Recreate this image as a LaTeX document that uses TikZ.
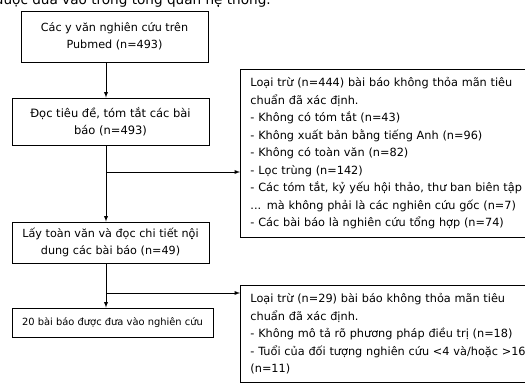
\documentclass[tikz,border=0pt]{standalone}
\usepackage{fontspec}
\setmainfont{DejaVu Sans}
\usetikzlibrary{arrows}
\usetikzlibrary{positioning}
\tikzset{box/.style = {draw, rectangle, line width = 0.9, inner sep = 0, align = center, font = \fontsize{11.2}{17.5}\selectfont}}
\tikzset{exbox/.style = {draw, rectangle, line width = 0.9, anchor = north west, inner xsep = 10, inner ysep = 8, text width = 330, align = left, font = \fontsize{11.3}{17.5}\selectfont}}
\tikzset{arr/.style = {-latex, line width = 0.9}}

\begin{document}
\begin{tikzpicture}[x = 1pt, y = 1pt]
      \useasboundingbox (0, 0) rectangle (525, 383);

      \node [anchor = base west, font = \fontsize{13.6}{16}\selectfont] at (-8.6, 378) (caption) {được đưa vào trong tổng quan hệ thống.};

      \node [box, minimum width = 187, minimum height = 51] at (114.5, 346.5) (pubmed) {Các y văn nghiên cứu trên\\Pubmed (n=493)};
      \node [box, minimum width = 197, minimum height = 47, font = \fontsize{11.5}{17.5}\selectfont] at (110.5, 261.5) (screen) {Đọc tiêu đề, tóm tắt các bài\\báo (n=493)};
      \node [box, minimum width = 197, minimum height = 41] at (110.5, 140.5) (fulltext) {Lấy toàn văn và đọc chi tiết nội\\dung các bài báo (n=49)};
      \node [box, minimum width = 201, minimum height = 29, font = \fontsize{9.9}{12}\selectfont] at (112.5, 60.5) (included) {20 bài báo được đưa vào nghiên cứu};

      \node [exbox] at (240, 314) (excl1) {\makebox[273pt][s]{Loại trừ (n=444) bài báo không thỏa mãn tiêu}\\
        chuẩn đã xác định.\\
        - Không có tóm tắt (n=43)\\
        - Không xuất bản bằng tiếng Anh (n=96)\\
        - Không có toàn văn (n=82)\\
        - Lọc trùng (n=142)\\
        - Các tóm tắt, kỷ yếu hội thảo, thư ban biên tập\\
        ... mà không phải là các nghiên cứu gốc (n=7)\\
        - Các bài báo là nghiên cứu tổng hợp (n=74)};
      \node [exbox] at (240, 98) (excl2) {\makebox[273pt][s]{Loại trừ (n=29) bài báo không thỏa mãn tiêu}\\
        chuẩn đã xác định.\\
        - Không mô tả rõ phương pháp điều trị (n=18)\\
        - Tuổi của đối tượng nghiên cứu <4 và/hoặc >16\\
        (n=11)};

      \coordinate (spine) at (106, 0);
      \coordinate (split1) at (106, 211);
      \coordinate (split2) at (106, 90);

      \draw [arr] (pubmed.south -| spine) -- (screen.north -| spine);
      \draw [arr] (screen.south -| spine) -- (fulltext.north -| spine);
      \draw [arr] (fulltext.south -| spine) -- (included.north -| spine);
      \draw [arr] (split1) -- (split1 -| excl1.west);
      \draw [arr] (split2) -- (split2 -| excl2.west);
\end{tikzpicture}
\end{document}
